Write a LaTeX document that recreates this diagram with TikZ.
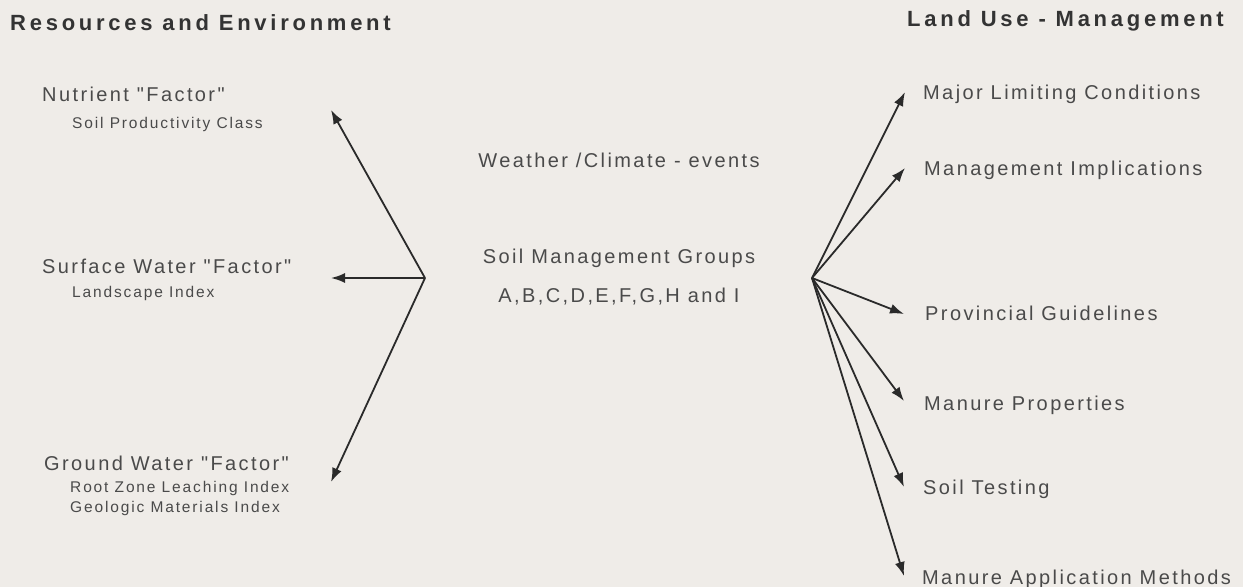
\documentclass[tikz,border=0pt]{standalone}
\usepackage{fontspec}
\setmainfont{Liberation Sans}
\newfontfamily\lsfont[LetterSpace=12]{Liberation Sans}
\newfontfamily\lsbold[LetterSpace=17]{Liberation Sans Bold}
\usetikzlibrary{arrows.meta}
\definecolor{bg}{HTML}{EFECE8}
\definecolor{txt}{HTML}{4A4A4A}
\definecolor{ttl}{HTML}{333333}
\definecolor{arr}{HTML}{2A2A2A}
\tikzset{
  lbl/.style={inner sep=0pt, text=txt, anchor=base west},
  ttlbl/.style={lbl, text=ttl, font=\lsbold\fontsize{22bp}{26bp}\selectfont},
  bigl/.style={lbl, font=\lsfont\fontsize{20bp}{24bp}\selectfont},
  midl/.style={lbl, font=\lsfont\fontsize{20bp}{24bp}\selectfont},
  smal/.style={lbl, font=\lsfont\fontsize{15.5bp}{18bp}\selectfont},
  cen/.style={anchor=base},
  conn/.style={draw=arr, line width=1.8bp, -{Latex[length=14bp,width=10bp]}}
}
\begin{document}
\begin{tikzpicture}[x=1bp,y=-1bp]
\fill[bg] (0,0) rectangle (1243,587);
\useasboundingbox (0,0) rectangle (1243,587);

% titles
\node[ttlbl] (tl) at (10,31) {Resources and Environment};
\node[ttlbl] (tr) at (907,27) {Land Use - Management};

% left side
\node[midl] (nut) at (42,102) {Nutrient "Factor"};
\node[smal] (nuts) at (72,129) {Soil Productivity Class};
\node[midl] (sw) at (42,274) {Surface Water "Factor"};
\node[smal] (sws) at (72,298) {Landscape Index};
\node[midl] (gw) at (44,470) {Ground Water "Factor"};
\node[smal] (gws1) at (70,492) {Root Zone Leaching Index};
\node[smal] (gws2) at (70,512) {Geologic Materials Index};

% centre
\node[bigl,cen] (wx) at (619,168) {Weather /Climate - events};
\node[bigl,cen] (smg) at (619,264) {Soil Management Groups};
\node[bigl,cen] (grp) at (619,303) {A,B,C,D,E,F,G,H and I};

% right side
\node[bigl] (mlc) at (923,100) {Major Limiting Conditions};
\node[bigl] (mi) at (924,176) {Management Implications};
\node[bigl] (pg) at (925,321) {Provincial Guidelines};
\node[bigl] (mp) at (924,410) {Manure Properties};
\node[bigl] (st) at (923,494) {Soil Testing};
\node[bigl] (mam) at (922,584) {Manure Application Methods};

% hubs and arrow ends
\coordinate (hl) at (425,278);
\coordinate (hr) at (812,278);
\coordinate (tnut) at (331,110);
\coordinate (tsw) at (331,278);
\coordinate (tgw) at (331,482);
\coordinate (tmlc) at (905,92);
\coordinate (tmi) at (905,168);
\coordinate (tpg) at (904,314);
\coordinate (tmp) at (904,401);
\coordinate (tst) at (904,487);
\coordinate (tmam) at (904,576);

\draw[conn] (hl) -- (tnut);
\draw[conn] (hl) -- (tsw);
\draw[conn] (hl) -- (tgw);
\draw[conn] (hr) -- (tmlc);
\draw[conn] (hr) -- (tmi);
\draw[conn] (hr) -- (tpg);
\draw[conn] (hr) -- (tmp);
\draw[conn] (hr) -- (tst);
\draw[conn] (hr) -- (tmam);
\end{tikzpicture}
\end{document}
